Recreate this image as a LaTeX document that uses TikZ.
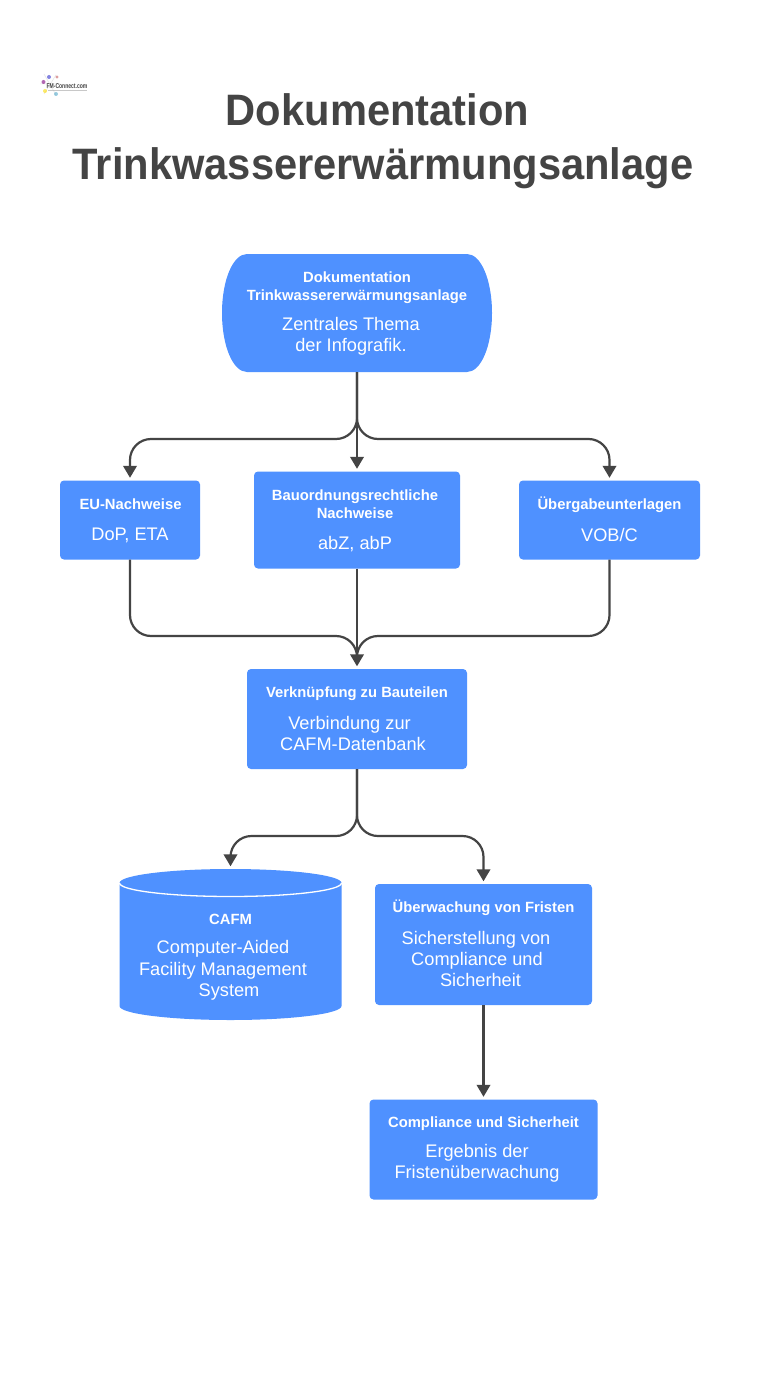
\documentclass[tikz,border=0pt]{standalone}
\usepackage{fontspec}
\setmainfont{Liberation Sans}
\newfontfamily\titlefont[FakeStretch=0.947]{Liberation Sans}
\newfontfamily\logofont[FakeStretch=0.72]{Liberation Sans}
\usetikzlibrary{arrows.meta,shapes.geometric}
\definecolor{boxblue}{HTML}{4F91FF}
\definecolor{ink}{HTML}{444444}
\tikzset{
  flowbox/.style={fill=boxblue,rounded corners=4pt,inner sep=0pt,text=white,align=center},
  ghost/.style={inner sep=0pt,minimum width=0pt},
  head/.style={font=\fontsize{14.8}{18}\selectfont\bfseries,text=white,align=center,inner sep=0pt,yshift=-1.2pt},
  body/.style={font=\fontsize{18.2}{21.3}\selectfont,text=white,align=center,inner sep=0pt,yshift=-1pt},
  link/.style={draw=ink,line width=2.2pt,rounded corners=21pt},
  arrow/.style={link,shorten >=2.5pt,-{Triangle[width=13.5pt,length=12pt]}},
  titletext/.style={font=\titlefont\fontsize{44}{54}\selectfont\bfseries,text=ink,align=center,inner sep=0pt}
}
\begin{document}
\begin{tikzpicture}[x=1pt,y=-1pt]
\useasboundingbox (0,0) rectangle (769,1383);
\fill[white] (0,0) rectangle (769,1383);
% logo
\draw[gray!35,line width=.5pt,opacity=.6] (44,74) -- (56,95) (56,75) -- (44,94) (40,84) -- (60,84);
\fill[blue!60!gray,opacity=.6] (49,77) circle (2pt);
\fill[violet,opacity=.6] (43.5,82) circle (2pt);
\fill[red!50!gray,opacity=.5] (57,77) circle (1.6pt);
\fill[yellow!80!orange,opacity=.6] (45,91) circle (2pt);
\fill[cyan!60!gray,opacity=.6] (56,94) circle (2pt);
\node[ghost,font=\logofont\fontsize{7}{8}\selectfont\bfseries,text=ink] (logo) at (67,86) {FM-Connect.com};
\draw[gray!60,line width=1.2pt,opacity=.7] (48,90.8) -- (87,90.8);
% title
\node[titletext] (title) at (383,141) {Dokumentation\hspace*{11pt}\\Trinkwassererwärmungsanlage};
% top stadium
\fill[boxblue] (247,254) -- (467,254) .. controls (481,254) and (492,280) .. (492,313) .. controls (492,346) and (481,372) .. (467,372) -- (247,372) .. controls (233,372) and (222,346) .. (222,313) .. controls (222,280) and (233,254) .. (247,254) -- cycle;
\node[ghost,minimum width=270pt,minimum height=118pt] (top) at (357,313) {};
\node[head] (toph) at (357,286.5) {Dokumentation\\Trinkwassererwärmungsanlage};
\node[body] (topb) at (351,335.5) {Zentrales Thema\\der Infografik.};
% boxes
\node[flowbox,minimum width=140pt,minimum height=79pt] (eu) at (130,520) {};
\node[head] (euh) at (130.5,503.5) {EU-Nachweise};
\node[body] (eub) at (130,534) {DoP, ETA};
\node[flowbox,minimum width=206pt,minimum height=97pt] (bau) at (357,520) {};
\node[head] (bauh) at (355,503.5) {Bauordnungsrechtliche\\Nachweise};
\node[body] (baub) at (355,543) {abZ, abP};
\node[flowbox,minimum width=181pt,minimum height=79pt] (ueb) at (609.5,520) {};
\node[head] (uebh) at (609.5,503.5) {Übergabeunterlagen};
\node[body] (uebb) at (609.5,534) {VOB/C};
\node[flowbox,minimum width=220pt,minimum height=100pt] (ver) at (357,719) {};
\node[head] (verh) at (357,692.5) {Verknüpfung zu Bauteilen};
\node[body] (verb) at (349.5,732.5) {Verbindung zur\\\hspace*{7pt}CAFM-Datenbank};
% cylinder
\fill[boxblue] (119.5,883) arc[start angle=180,end angle=360,x radius=111pt,y radius=-14pt] -- (341.5,1006) arc[start angle=0,end angle=180,x radius=111pt,y radius=-14pt] -- cycle;
\draw[white,line width=1.3pt] (119.5,883) arc[start angle=180,end angle=360,x radius=111pt,y radius=13.5pt];
\node[ghost,minimum width=222pt,minimum height=151pt] (cafm) at (230.5,944.5) {};
\node[head] (cafmh) at (230.5,918.5) {CAFM};
\node[body] (cafmb) at (223,969.5) {Computer-Aided\\Facility Management\\\hspace*{12pt}System};
\node[flowbox,minimum width=217pt,minimum height=121pt] (ueberw) at (483.5,944.5) {};
\node[head] (ueberwh) at (483.5,907) {Überwachung von Fristen};
\node[body] (ueberwb) at (476,958) {Sicherstellung von\\\hspace*{2pt}Compliance und\\\hspace*{9pt}Sicherheit};
\node[flowbox,minimum width=228pt,minimum height=100pt] (comp) at (483.5,1149.5) {};
\node[head] (comph) at (483.5,1122) {Compliance und Sicherheit};
\node[body] (compb) at (477,1162.5) {Ergebnis der\\Fristenüberwachung};
% connectors
\draw[arrow] (top.south) -- (357,439) -- (130,439) -- (eu.north);
\draw[arrow] (top.south) -- (bau.north);
\draw[arrow] (top.south) -- (357,439) -- (609.5,439) -- (ueb.north);
\draw[link] (eu.south) -- (130,636) -- (357,636) -- (357,655);
\draw[link] (ueb.south) -- (609.5,636) -- (357,636) -- (357,655);
\draw[arrow] (bau.south) -- (ver.north);
\draw[arrow] (ver.south) -- (357,836) -- (230.5,836) -- (cafm.north);
\draw[arrow] (ver.south) -- (357,836) -- (483.5,836) -- (ueberw.north);
\draw[arrow] (ueberw.south) -- (comp.north);
\end{tikzpicture}
\end{document}
